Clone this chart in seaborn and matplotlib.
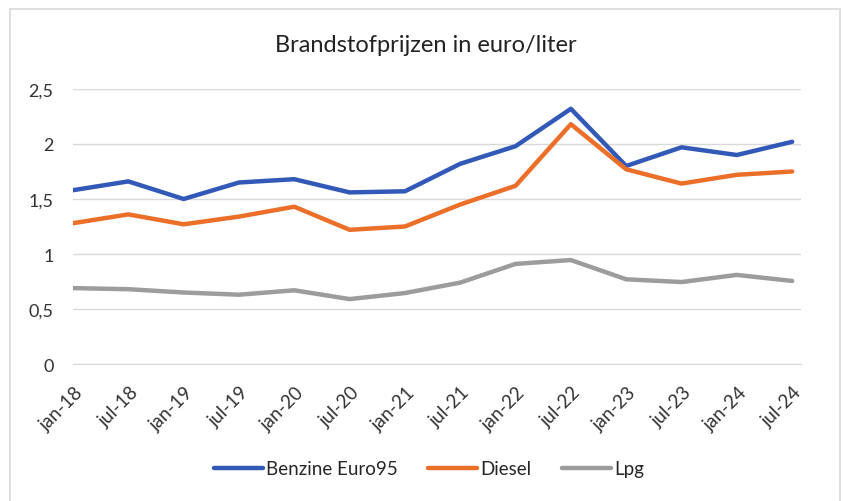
import matplotlib
matplotlib.use("Agg")
import matplotlib.pyplot as plt
import matplotlib.ticker as mticker
import matplotlib.transforms as mtransforms
from matplotlib.patches import Rectangle
import pandas as pd
import seaborn as sns

months = ["jan-18", "jul-18", "jan-19", "jul-19", "jan-20", "jul-20", "jan-21",
          "jul-21", "jan-22", "jul-22", "jan-23", "jul-23", "jan-24", "jul-24"]
benzine = [1.58, 1.66, 1.50, 1.65, 1.68, 1.56, 1.57, 1.82, 1.98, 2.32, 1.80, 1.97, 1.90, 2.02]
diesel = [1.28, 1.36, 1.27, 1.34, 1.43, 1.22, 1.25, 1.45, 1.62, 2.18, 1.77, 1.64, 1.72, 1.75]
lpg = [0.69, 0.68, 0.65, 0.63, 0.67, 0.59, 0.645, 0.74, 0.91, 0.945, 0.77, 0.745, 0.81, 0.755]

series = ["Benzine Euro95", "Diesel", "Lpg"]
colors = ["#3259B8", "#EB6F28", "#9C9C9C"]

df = pd.DataFrame({"maand": months, series[0]: benzine, series[1]: diesel, series[2]: lpg})
long_df = df.melt(id_vars="maand", var_name="brandstof", value_name="prijs")
long_df["pos"] = long_df.groupby("brandstof").cumcount()

sns.set_style("white")
plt.rcParams["font.family"] = ["Lato", "DejaVu Sans"]

fig = plt.figure(figsize=(8.43, 5.02), dpi=100)
ax = fig.add_axes([73 / 843, 1 - 365 / 502, (801 - 73) / 843, (365 - 90) / 502])

sns.lineplot(data=long_df, x="pos", y="prijs", hue="brandstof", palette=colors,
             linewidth=3.2, ax=ax, legend=True)

ax.set_xlim(0, 13.16)
ax.set_ylim(0, 2.5)
ax.yaxis.set_major_locator(mticker.MultipleLocator(0.5))
ax.yaxis.set_major_formatter(mticker.FuncFormatter(
    lambda v, p: f"{v:g}".replace(".", ",")))
ax.grid(axis="y", color="#D9D9D9", linewidth=1)
ax.set_axisbelow(True)
for s in ["top", "right", "left"]:
    ax.spines[s].set_visible(False)
ax.spines["bottom"].set_color("#D9D9D9")
ax.set_xticks(range(len(months)))
ax.set_xticklabels(months, rotation=45, ha="right", va="center", rotation_mode="anchor")
ax.tick_params(axis="x", length=5, color="#D9D9D9", labelsize=13.5, pad=13,
               labelcolor="#333333")
ax.tick_params(axis="y", length=0, labelsize=13, pad=14, labelcolor="#333333")
shift = mtransforms.ScaledTranslation(7 / 100, 0, fig.dpi_scale_trans)
for lbl in ax.get_xticklabels():
    lbl.set_transform(lbl.get_transform() + shift)
ax.set_xlabel("")
ax.set_ylabel("")

fig.text(426 / 843, 1 - 45 / 502, "Brandstofprijzen in euro/liter",
         ha="center", va="center", fontsize=17, color="#222222")

handles, labels = ax.get_legend_handles_labels()
ax.legend_.remove()
fig.legend(handles, labels, loc="center", bbox_to_anchor=(429 / 843, 1 - 470 / 502),
           ncol=3, frameon=False, fontsize=13.5, handlelength=2.6, handletextpad=0.2,
           columnspacing=1.6)

fig.patches.append(Rectangle((10 / 843, -0.02), 830 / 843, 1.02 - 10 / 502,
                             transform=fig.transFigure, fill=False,
                             edgecolor="#D9D9D9", linewidth=1.2))

fig.savefig("out.png", dpi=100)
